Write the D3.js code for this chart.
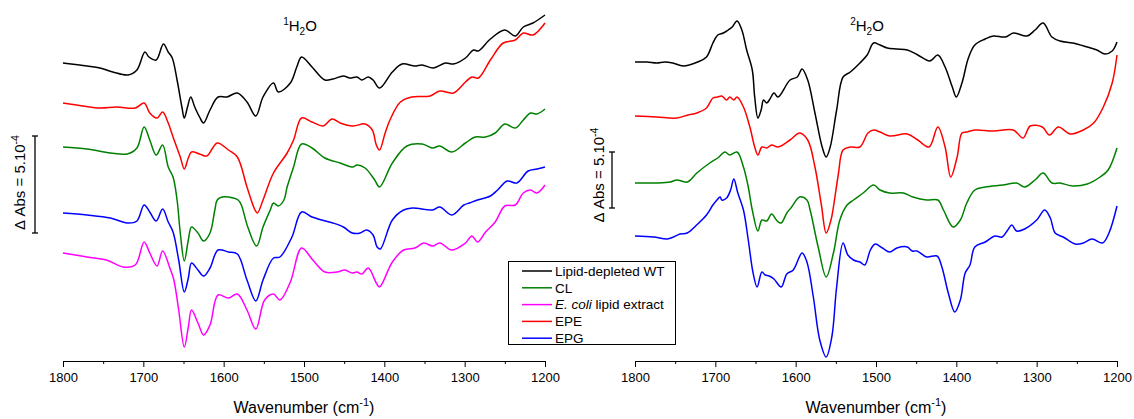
<!DOCTYPE html>
<html><head><meta charset="utf-8">
<script src="https://cdn.jsdelivr.net/npm/d3@7"></script>
<style>body{margin:0;background:#fff} text{font-family:"Liberation Sans",Arial,sans-serif;fill:#000}</style>
</head><body><svg id="c" width="1134" height="419"></svg>
<script>
// ---- axis ticks ----
const xTicks = [1800,1700,1600,1500,1400,1300,1200];
const xMinorTicks = [1750,1650,1550,1450,1350,1250];
const panelTitles = ["1|H|2|O","2|H|2|O"];

// ---- legend ----
const legendNames = ["Lipid-depleted WT","CL","E. coli lipid extract","EPE","EPG"];
const legendColors = ["#000000","#008000","#ff00ff","#ff0000","#0000ff"];

// ---- scale bar: 5.10^-4 ΔAbs expressed in plot units (a.u.) ----
const scaleBarH2O = [128, 97];   // [lower value, length] in a.u.
const scaleBarD2O = [153, 56];

// ---- 1H2O spectra: [wavenumber, ΔAbs a.u. incl. offset] ----
const h2o_WT = [[1800,298],[1770,295],[1754,293],[1738,289],[1719,286],[1708,291],[1698,309],[1693,304],[1684,301],[1675,317],[1669,309],[1664,303],[1658,281],[1652,254],[1649,243],[1645,254],[1641,264],[1636,254],[1630,244],[1625,238],[1617,251],[1607,264],[1596,264],[1583,268],[1571,259],[1560,245],[1551,264],[1538,278],[1532,269],[1517,278],[1509,294],[1503,304],[1490,294],[1474,281],[1464,282],[1451,285],[1443,283],[1434,284],[1428,281],[1420,284],[1414,281],[1406,273],[1390,289],[1378,297],[1362,295],[1353,296],[1339,293],[1324,298],[1314,297],[1299,303],[1289,311],[1283,310],[1268,322],[1250,331],[1237,325],[1227,334],[1215,338],[1200,346]];
const h2o_EPE = [[1800,258],[1775,255],[1754,253],[1733,254],[1710,253],[1699,258],[1692,248],[1683,243],[1676,249],[1669,238],[1663,224],[1654,204],[1649,192],[1644,203],[1640,209],[1630,207],[1621,205],[1608,218],[1594,211],[1583,204],[1571,174],[1561,151],[1558,148],[1551,161],[1538,188],[1521,208],[1513,221],[1503,243],[1490,239],[1476,235],[1465,242],[1455,238],[1439,235],[1424,237],[1415,231],[1410,216],[1406,211],[1399,228],[1393,241],[1380,259],[1366,264],[1343,265],[1331,270],[1314,268],[1299,279],[1291,284],[1283,283],[1268,301],[1252,318],[1237,321],[1227,328],[1215,326],[1200,338]];
const h2o_CL = [[1800,214],[1770,212],[1741,208],[1720,207],[1708,213],[1699,234],[1692,221],[1684,206],[1676,216],[1669,194],[1663,184],[1658,161],[1654,128],[1649,100],[1644,121],[1640,134],[1632,128],[1625,120],[1617,128],[1611,151],[1608,161],[1602,164],[1588,163],[1582,161],[1578,156],[1570,134],[1559,115],[1551,134],[1542,151],[1538,158],[1532,155],[1525,161],[1521,174],[1513,194],[1503,217],[1490,213],[1474,203],[1455,198],[1439,194],[1434,196],[1424,193],[1412,181],[1406,174],[1390,198],[1372,215],[1353,217],[1340,213],[1331,215],[1316,209],[1299,218],[1287,224],[1274,224],[1262,228],[1250,237],[1237,233],[1227,241],[1218,248],[1210,247],[1200,252]];
const h2o_EPG = [[1800,148],[1770,146],[1741,143],[1720,138],[1708,140],[1699,156],[1692,149],[1684,140],[1676,152],[1669,139],[1663,129],[1656,101],[1649,69],[1644,83],[1640,98],[1632,91],[1625,85],[1617,93],[1607,111],[1594,109],[1583,107],[1571,81],[1560,60],[1551,81],[1538,103],[1530,104],[1515,124],[1503,149],[1490,144],[1478,141],[1464,138],[1451,134],[1440,128],[1430,128],[1422,131],[1414,126],[1409,114],[1405,112],[1390,141],[1376,151],[1365,153],[1340,151],[1331,154],[1316,146],[1301,156],[1294,158],[1284,161],[1268,165],[1259,171],[1247,180],[1235,178],[1221,190],[1210,192],[1200,194]];
const h2o_Ecoli = [[1800,108],[1770,104],[1746,101],[1725,94],[1710,96],[1699,119],[1692,108],[1683,95],[1676,110],[1667,93],[1662,81],[1656,51],[1649,14],[1644,34],[1640,51],[1632,38],[1625,26],[1617,36],[1607,66],[1594,63],[1583,67],[1571,51],[1560,32],[1549,61],[1538,67],[1530,61],[1517,79],[1503,113],[1489,101],[1474,89],[1459,89],[1449,91],[1440,88],[1434,89],[1428,87],[1420,93],[1410,78],[1406,74],[1390,99],[1376,111],[1362,113],[1351,118],[1340,115],[1331,118],[1316,111],[1299,118],[1291,125],[1284,119],[1274,129],[1262,139],[1250,155],[1237,156],[1227,168],[1218,171],[1210,168],[1200,176]];

// ---- 2H2O spectra ----
const d2o_WT = [[1800,299],[1785,299],[1773,298],[1763,299],[1753,298],[1740,295],[1722,299],[1711,304],[1703,318],[1697,326],[1690,328],[1684,331],[1679,334],[1673,340],[1667,331],[1661,311],[1654,291],[1651,264],[1647,243],[1643,251],[1640,261],[1636,258],[1632,262],[1627,268],[1622,264],[1607,281],[1598,284],[1592,292],[1585,281],[1576,248],[1567,214],[1562,204],[1557,214],[1549,251],[1541,284],[1532,289],[1520,298],[1511,306],[1503,318],[1495,316],[1486,313],[1474,312],[1461,311],[1448,306],[1433,300],[1423,306],[1414,294],[1405,274],[1400,264],[1393,278],[1385,303],[1377,316],[1364,322],[1354,325],[1339,324],[1329,328],[1312,325],[1302,331],[1292,338],[1281,324],[1271,320],[1255,318],[1237,314],[1225,311],[1215,307],[1206,310],[1200,319]];
const d2o_EPE = [[1800,245],[1773,244],[1748,243],[1734,246],[1723,248],[1711,253],[1703,263],[1697,264],[1692,265],[1686,261],[1682,264],[1677,261],[1673,264],[1665,254],[1657,234],[1651,214],[1647,206],[1642,214],[1636,213],[1630,216],[1622,214],[1607,221],[1595,228],[1585,221],[1576,194],[1568,156],[1562,128],[1556,141],[1553,154],[1547,186],[1541,211],[1532,214],[1520,214],[1510,228],[1503,231],[1495,229],[1483,225],[1461,227],[1448,221],[1434,214],[1423,234],[1414,214],[1407,184],[1399,204],[1393,228],[1387,229],[1377,231],[1354,230],[1329,231],[1317,223],[1308,235],[1293,234],[1284,226],[1273,234],[1258,227],[1242,231],[1229,238],[1217,254],[1206,278],[1200,306]];
const d2o_CL = [[1800,178],[1773,178],[1756,179],[1748,181],[1735,179],[1723,188],[1707,198],[1697,203],[1688,209],[1682,206],[1673,209],[1665,194],[1659,174],[1654,151],[1647,130],[1642,141],[1636,140],[1630,147],[1623,140],[1618,138],[1611,148],[1605,154],[1595,164],[1586,161],[1582,151],[1572,114],[1562,84],[1553,108],[1545,141],[1536,156],[1528,161],[1516,168],[1503,176],[1495,171],[1483,168],[1466,168],[1454,164],[1437,161],[1423,161],[1416,151],[1404,134],[1395,141],[1387,158],[1377,171],[1364,174],[1342,176],[1325,178],[1315,174],[1302,181],[1292,188],[1281,178],[1271,178],[1255,175],[1237,177],[1221,184],[1211,191],[1200,213]];
const d2o_EPG = [[1800,125],[1777,124],[1760,122],[1752,124],[1744,127],[1735,128],[1722,137],[1711,146],[1703,156],[1698,161],[1694,164],[1692,161],[1686,163],[1681,171],[1677,182],[1672,168],[1665,151],[1659,121],[1653,88],[1648,74],[1642,89],[1638,86],[1633,85],[1627,82],[1618,74],[1611,87],[1603,91],[1592,108],[1586,99],[1578,64],[1570,21],[1562,4],[1555,24],[1549,74],[1541,118],[1535,106],[1528,101],[1520,99],[1514,96],[1507,111],[1501,117],[1492,113],[1483,109],[1474,113],[1461,114],[1455,110],[1449,110],[1437,104],[1424,105],[1418,94],[1410,68],[1402,49],[1395,61],[1389,88],[1383,96],[1377,114],[1364,119],[1352,125],[1343,124],[1336,131],[1331,136],[1325,130],[1315,132],[1300,141],[1290,151],[1283,143],[1277,128],[1267,124],[1252,117],[1242,118],[1231,122],[1218,118],[1210,128],[1200,155]];

const svg = d3.select("#c");
const yScale = d3.scaleLinear().domain([0,300]).range([361,61]);
const FONT = "Liberation Sans, Arial, sans-serif";

function drawPanel(cfg){
  const x = d3.scaleLinear().domain([1800,1200]).range(cfg.range);
  const g = svg.append("g");
  const line = d3.line().x(d=>x(d[0])).y(d=>yScale(d[1])).curve(d3.curveCatmullRom.alpha(0.5));
  cfg.series.forEach(s=>{
    g.append("path").datum(s.data).attr("d",line).attr("fill","none")
     .attr("stroke",s.color).attr("stroke-width",1.5).attr("stroke-linejoin","round");
  });
  // axis
  const ax = g.append("g").attr("transform",`translate(0,${yScale(0)})`)
    .call(d3.axisBottom(x).tickValues(xTicks).tickFormat(d3.format("d")).tickSize(6).tickSizeOuter(0).tickPadding(6));
  ax.attr("font-family",FONT);
  ax.selectAll("text").attr("font-size","13px").attr("font-family",FONT);
  ax.select(".domain").attr("stroke","#000");
  const axm = g.append("g").attr("transform",`translate(0,${yScale(0)})`)
    .call(d3.axisBottom(x).tickValues(xMinorTicks).tickSize(3).tickFormat(""));
  axm.select(".domain").remove();
  // x title
  const cx = (cfg.range[0]+cfg.range[1])/2;
  const t = g.append("text").attr("x",cx).attr("y",413).attr("text-anchor","middle").attr("font-size","16px");
  t.append("tspan").text("Wavenumber (cm");
  t.append("tspan").attr("font-size","11px").attr("dy",-7).text("-1");
  t.append("tspan").attr("dy",7).text(")");
  // panel title
  const p = cfg.title.split("|");
  const tt = g.append("text").attr("x",cfg.titleX).attr("y",31).attr("text-anchor","middle").attr("font-size","15px");
  tt.append("tspan").attr("font-size","10px").attr("dy",-6).text(p[0]);
  tt.append("tspan").attr("dy",6).text(p[1]);
  tt.append("tspan").attr("font-size","10px").attr("dy",4).text(p[2]);
  tt.append("tspan").attr("dy",-4).text(p[3]);
  // scale bar
  const y0 = yScale(cfg.bar[0]), y1 = yScale(cfg.bar[0]+cfg.bar[1]);
  const bx = cfg.barX;
  g.append("line").attr("x1",bx).attr("x2",bx).attr("y1",y0).attr("y2",y1).attr("stroke","#000").attr("stroke-width",1.3);
  [y0,y1].forEach(yy=>g.append("line").attr("x1",bx-3).attr("x2",bx+3).attr("y1",yy).attr("y2",yy).attr("stroke","#000").attr("stroke-width",1.3));
  const lb = g.append("text").attr("transform",`translate(${cfg.labelX},${(y0+y1)/2 + cfg.labelShift}) rotate(-90)`)
    .attr("text-anchor","middle").attr("dy","0.35em").attr("font-size","15px");
  lb.append("tspan").text("\u0394 Abs = 5.10");
  lb.append("tspan").attr("font-size","10.5px").attr("dy",-6).text("-4");
}

drawPanel({range:[63,545], title:panelTitles[0], titleX:300, bar:scaleBarH2O, barX:35, labelX:19.5, labelShift:-2,
  series:[{data:h2o_WT,color:legendColors[0]},{data:h2o_EPE,color:legendColors[3]},{data:h2o_CL,color:legendColors[1]},
          {data:h2o_EPG,color:legendColors[4]},{data:h2o_Ecoli,color:legendColors[2]}]});
drawPanel({range:[635,1117], title:panelTitles[1], titleX:867, bar:scaleBarD2O, barX:612, labelX:599, labelShift:-5,
  series:[{data:d2o_WT,color:legendColors[0]},{data:d2o_EPE,color:legendColors[3]},{data:d2o_CL,color:legendColors[1]},
          {data:d2o_EPG,color:legendColors[4]}]});

// legend
const lg = svg.append("g");
lg.append("rect").attr("x",508.5).attr("y",261.5).attr("width",167).attr("height",83).attr("fill","#fff").attr("stroke","#000").attr("stroke-width",1);
legendNames.forEach((n,i)=>{
  const yy = 271 + i*16.8;
  lg.append("line").attr("x1",522).attr("x2",552).attr("y1",yy).attr("y2",yy).attr("stroke",legendColors[i]).attr("stroke-width",1.5);
  const tx = lg.append("text").attr("x",555).attr("y",yy).attr("dy","0.36em").attr("font-size","13.5px");
  if(n.startsWith("E. coli")){
    tx.append("tspan").attr("font-style","italic").text("E. coli");
    tx.append("tspan").text(n.slice(7));
  } else tx.text(n);
});
</script></body></html>
